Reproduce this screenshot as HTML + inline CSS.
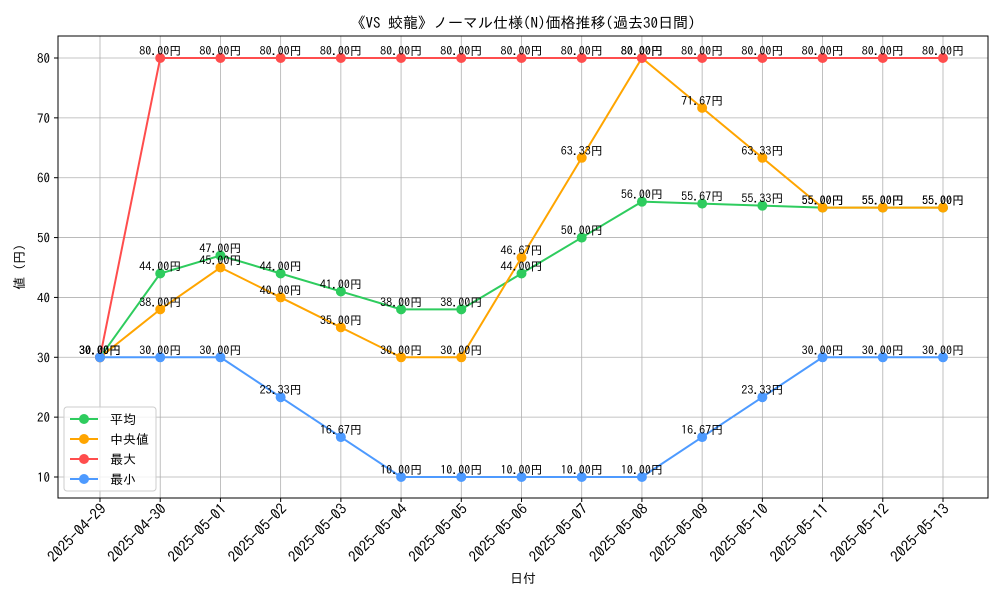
<!DOCTYPE html>
<html><head><meta charset="utf-8"><style>
body{margin:0;background:#fff}
svg text{font-family:"IPAGothic","Liberation Sans","Noto Sans CJK JP",sans-serif}
</style></head><body>
<svg id="c" width="1000" height="600" xmlns="http://www.w3.org/2000/svg"></svg>
<script>
const categories=["2025-04-29","2025-04-30","2025-05-01","2025-05-02","2025-05-03","2025-05-04","2025-05-05","2025-05-06","2025-05-07","2025-05-08","2025-05-09","2025-05-10","2025-05-11","2025-05-12","2025-05-13"];
const avgValues=[30,44,47,44,41,38,38,44,50,56,55.67,55.33,55,55,55];
const medianValues=[30,38,45,40,35,30,30,46.67,63.33,80,71.67,63.33,55,55,55];
const maxValues=[30,80,80,80,80,80,80,80,80,80,80,80,80,80,80];
const minValues=[30,30,30,23.33,16.67,10,10,10,10,10,16.67,23.33,30,30,30];
const yTicks=[10,20,30,40,50,60,70,80];
const seriesNames=["平均","中央値","最大","最小"];
const seriesColors=["#2ecc5e","#ffa500","#ff4d4d","#4d9aff"];

const NS="http://www.w3.org/2000/svg";
const svg=document.getElementById('c');
const L=58,R=988,T=36,B=498;
const xs=i=>100+i*(943-100)/(categories.length-1);
const ys=v=>477-(v-10)*(477-58)/70;
function el(tag,attrs,parent){const e=document.createElementNS(NS,tag);for(const k in attrs)e.setAttribute(k,attrs[k]);(parent||svg).appendChild(e);return e;}

categories.forEach((c,i)=>{
  const g=el('line',{x1:xs(i),x2:xs(i),y1:T,y2:B,stroke:'#b0b0b0','stroke-width':0.8});
  
  
  const tk=el('line',{x1:xs(i),x2:xs(i),y1:B,y2:B+4,stroke:'#000'});
  
  
  const t=el('text',{x:0,y:0,'font-size':15,'text-anchor':'end',transform:`translate(${xs(i)+7},${B+12}) rotate(-45)`});
  t.textContent=c;
  
  
});
yTicks.forEach(v=>{
  const g=el('line',{x1:L,x2:R,y1:ys(v),y2:ys(v),stroke:'#b0b0b0','stroke-width':0.8});
  
  
  const tk=el('line',{x1:L-4,x2:L,y1:ys(v),y2:ys(v),stroke:'#000'});
  
  
  const t=el('text',{x:L-8,y:ys(v)+5,'font-size':13,'text-anchor':'end'});
  t.textContent=v;
  
  
});
const frame=el('rect',{x:L,y:T,width:R-L,height:B-T,fill:'none',stroke:'#000','stroke-width':1});



const allSeries=[avgValues,medianValues,maxValues,minValues];
allSeries.forEach((vals,s)=>{
  const p=el('polyline',{points:vals.map((v,i)=>xs(i)+','+ys(v)).join(' '),fill:'none',stroke:seriesColors[s],'stroke-width':2});
  
  
  vals.forEach((v,i)=>{
    const c=el('circle',{cx:xs(i),cy:ys(v),r:5,fill:seriesColors[s]});
    
    
  });
});
allSeries.forEach((vals,s)=>{
  vals.forEach((v,i)=>{
    const t=el('text',{x:xs(i),y:ys(v)-3,'font-size':12,'text-anchor':'middle'});
    t.textContent=v.toFixed(2)+'円';
    
    
  });
});

const lg=el('g',{});


el('rect',{x:64,y:407,width:92,height:84,rx:3,fill:'#fff','fill-opacity':0.8,stroke:'#ccc'},lg);
seriesNames.forEach((n,s)=>{
  const y=419+s*20;
  const g=el('g',{},lg);
  
  
  el('line',{x1:70,x2:98,y1:y,y2:y,stroke:seriesColors[s],'stroke-width':2},g);
  el('circle',{cx:84,cy:y,r:5,fill:seriesColors[s]},g);
  const t=el('text',{x:110,y:y+5,'font-size':13},g);
  t.textContent=n;
});

const title=el('text',{x:523,y:28,'font-size':15,'text-anchor':'middle'});
title.textContent='《VS 蛟龍》ノーマル仕様(N)価格推移(過去30日間)';


const xt=el('text',{x:523,y:583,'font-size':13,'text-anchor':'middle'});
xt.textContent='日付';


const yt=el('text',{x:0,y:0,'font-size':13,'text-anchor':'middle',transform:'translate(24,267) rotate(-90)'});
yt.textContent='値 (円)';


</script>
</body></html>
